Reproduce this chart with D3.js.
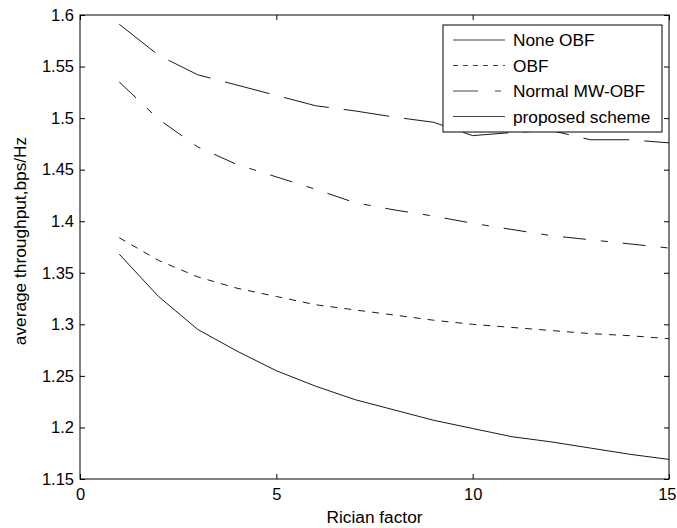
<!DOCTYPE html>
<html>
<head>
<meta charset="utf-8">
<script src="https://cdn.jsdelivr.net/npm/d3@7"></script>
<style>
  html, body { margin: 0; padding: 0; background: #fff; }
  svg { display: block; }
  text { font-family: "Liberation Sans", Arial, Helvetica, sans-serif; fill: #000; }
</style>
</head>
<body>
<svg id="chart" width="677" height="528"></svg>
<script>
// ---- data ----
const ricianFactor = [1, 2, 3, 4, 5, 6, 7, 8, 9, 10, 11, 12, 13, 14, 15];
const noneOBF   = [1.368, 1.327, 1.295, 1.274, 1.255, 1.240, 1.227, 1.217, 1.207, 1.199, 1.191, 1.186, 1.180, 1.174, 1.169];
const obf       = [1.384, 1.362, 1.346, 1.335, 1.327, 1.319, 1.314, 1.309, 1.304, 1.300, 1.297, 1.294, 1.291, 1.289, 1.286];
const normalMW  = [1.591, 1.561, 1.542, 1.532, 1.522, 1.512, 1.507, 1.501, 1.496, 1.483, 1.486, 1.488, 1.479, 1.479, 1.476];
const proposed  = [1.535, 1.499, 1.472, 1.455, 1.443, 1.431, 1.418, 1.411, 1.405, 1.398, 1.392, 1.386, 1.382, 1.378, 1.374];
const seriesNames = ["None OBF", "OBF", "Normal MW-OBF", "proposed scheme"];
const xTicks = [0, 5, 10, 15];
const yTicks = [1.15, 1.2, 1.25, 1.3, 1.35, 1.4, 1.45, 1.5, 1.55, 1.6];
const xLabel = "Rician factor";
const yLabel = "average throughput,bps/Hz";

// ---- layout ----
const svg = d3.select("#chart");
const L = 80, R = 669, T = 15, B = 479;
const x = d3.scaleLinear().domain([0, 15]).range([L, R]);
const y = d3.scaleLinear().domain([1.15, 1.6]).range([B, T]);
const fsTick = 16.5, fs = 17.3;

svg.append("rect").attr("width", 677).attr("height", 528).attr("fill", "#fff");

const styles = [
  { dash: null },
  { dash: "7,7" },
  { dash: "46,15" },
  { dash: "23,15,7,15" }
];
const allSeries = [noneOBF, obf, normalMW, proposed];

const line = d3.line().x((d, i) => x(ricianFactor[i])).y(d => y(d));
const g = svg.append("g");
allSeries.forEach((s, k) => {
  g.append("path")
    .datum(s)
    .attr("d", line)
    .attr("fill", "none")
    .attr("stroke", "#1a1a1a")
    .attr("stroke-width", 1)
    .attr("stroke-dasharray", styles[k].dash);
});

// ---- axes ----
const tickLen = 5;
const fmtY = d => d3.format("")(+d.toFixed(2));
const axB = svg.append("g").attr("transform", `translate(0,${B})`)
  .call(d3.axisBottom(x).tickValues(xTicks).tickSize(-tickLen).tickPadding(8).tickFormat(d3.format("d")));
const axT = svg.append("g").attr("transform", `translate(0,${T})`)
  .call(d3.axisTop(x).tickValues(xTicks).tickSize(-tickLen).tickFormat(""));
const axL = svg.append("g").attr("transform", `translate(${L},0)`)
  .call(d3.axisLeft(y).tickValues(yTicks).tickSize(-tickLen).tickPadding(6).tickFormat(fmtY));
const axR = svg.append("g").attr("transform", `translate(${R},0)`)
  .call(d3.axisRight(y).tickValues(yTicks).tickSize(-tickLen).tickFormat(""));
[axB, axT, axL, axR].forEach(a => {
  a.select(".domain").remove();
  a.selectAll("line").attr("stroke", "#000").attr("stroke-width", 1);
  a.selectAll("text").attr("font-size", fsTick).attr("font-family", null).attr("fill", "#000");
});
axB.selectAll("text").attr("dy", "0.8em");
// keep the last x tick label inside the window
axB.selectAll(".tick").filter(d => d === 15).select("text")
  .attr("text-anchor", "end").attr("x", 677 - R - 1);

svg.append("rect").attr("x", L).attr("y", T).attr("width", R - L).attr("height", B - T)
  .attr("fill", "none").attr("stroke", "#000").attr("stroke-width", 1);

svg.append("text").attr("x", (L + R) / 2).attr("y", 523).attr("text-anchor", "middle")
  .attr("font-size", fs).text(xLabel);
svg.append("text").attr("transform", `translate(26,${(T + B) / 2 - 6}) rotate(-90)`)
  .attr("text-anchor", "middle").attr("font-size", fs).text(yLabel);

// ---- legend ----
const lg = svg.append("g");
const lgX = 443, lgY = 25, lgW = 219, lgH = 107;
lg.append("rect").attr("x", lgX).attr("y", lgY).attr("width", lgW).attr("height", lgH)
  .attr("fill", "#fff").attr("stroke", "#000").attr("stroke-width", 1);
const legendDash = [null, "5,5", "25,17,6,10", null];
seriesNames.forEach((name, k) => {
  const cy = 40 + k * 25.5;
  lg.append("line").attr("x1", 453).attr("x2", 505).attr("y1", cy).attr("y2", cy)
    .attr("stroke", "#444").attr("stroke-width", 1).attr("stroke-dasharray", legendDash[k]);
  lg.append("text").attr("x", 513).attr("y", cy).attr("dy", "0.35em")
    .attr("font-size", fs).text(name);
});
</script>
</body>
</html>
